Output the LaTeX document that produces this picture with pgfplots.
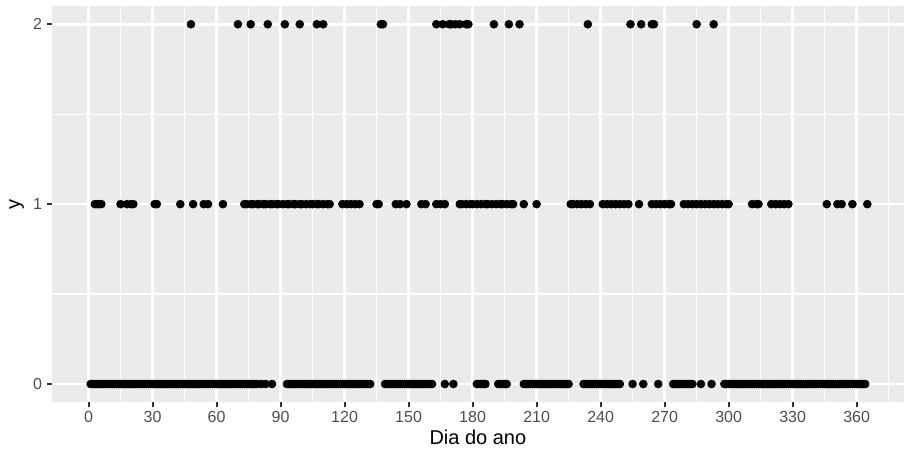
\documentclass[border=0pt]{standalone}
\usepackage{pgfplots}
\pgfplotsset{compat=1.18}
\usepackage{fontspec}
\setmainfont{Liberation Sans}
\definecolor{panelbg}{HTML}{EBEBEB}
\definecolor{grayA}{HTML}{4D4D4D}
\definecolor{grayB}{HTML}{333333}
\begin{document}
\begin{tikzpicture}
\begin{axis}[
  scale only axis, width=639.2pt, height=296.8pt,
  at={(38.8pt,36pt)}, anchor=south west,
  xmin=-17.25, xmax=382.2, ymin=-0.1, ymax=2.1,
  axis background/.style={fill=panelbg},
  axis x line*=bottom, axis y line*=left,
  axis line style={draw=none},
  xtick={0,30,...,360}, ytick={0,1,2},
  minor xtick={15,45,...,375}, minor ytick={0.5,1.5},
  grid=both,
  major grid style={white, line width=2pt},
  minor grid style={white, line width=1pt},
  tick align=outside,
  major tick length=3.75pt, minor tick length=0pt,
  major tick style={grayB, line width=1.5pt},
  /pgf/number format/assume math mode=true,
  ticklabel style={font=\fontsize{12}{14}\selectfont, text=grayA},
  xlabel={Dia do ano}, ylabel={y},
  label style={font=\fontsize{15}{18}\selectfont},
  xlabel style={yshift=2pt},
  clip=true,
]
\addplot[only marks, mark=*, mark size=3pt, black] coordinates {
(1,0)(2,0)(3,0)(4,0)(5,0)(6,0)(7,0)(8,0)(9,0)(10,0)
(11,0)(12,0)(13,0)(14,0)(15,0)(16,0)(17,0)(18,0)(19,0)(20,0)
(21,0)(22,0)(23,0)(24,0)(25,0)(26,0)(27,0)(28,0)(29,0)(30,0)
(31,0)(32,0)(33,0)(34,0)(35,0)(36,0)(37,0)(38,0)(39,0)(40,0)
(41,0)(42,0)(43,0)(44,0)(45,0)(46,0)(47,0)(48,0)(49,0)(50,0)
(51,0)(52,0)(53,0)(54,0)(55,0)(56,0)(57,0)(58,0)(59,0)(60,0)
(61,0)(62,0)(63,0)(64,0)(65,0)(66,0)(67,0)(68,0)(69,0)(70,0)
(71,0)(72,0)(73,0)(74,0)(75,0)(76,0)(77,0)(78,0)(79,0)(81,0)(83,0)(86,0)
(93,0)(94,0)(95,0)(96,0)(97,0)(98,0)(99,0)(100,0)
(101,0)(102,0)(103,0)(104,0)(105,0)(106,0)(107,0)(108,0)(109,0)(110,0)
(111,0)(112,0)(113,0)(114,0)(115,0)(116,0)(117,0)(118,0)(119,0)(120,0)
(121,0)(122,0)(123,0)(124,0)(125,0)(126,0)(127,0)(128,0)(129,0)(130,0)
(131,0)(132,0)
(139,0)(140,0)(141,0)(142,0)(143,0)(144,0)(145,0)(146,0)(147,0)(148,0)
(149,0)(150,0)(151,0)(152,0)(153,0)(154,0)(155,0)(156,0)(157,0)(158,0)
(159,0)(160,0)(161,0)
(167,0)(171,0)
(182,0)(183,0)(184,0)(185,0)(186,0)
(192,0)(193,0)(194,0)(195,0)(196,0)
(204,0)(205,0)(206,0)(207,0)(208,0)(209,0)(210,0)(211,0)(212,0)(213,0)
(214,0)(215,0)(216,0)(217,0)(218,0)(219,0)(220,0)(221,0)(222,0)(223,0)
(224,0)(225,0)
(232,0)(233,0)(234,0)(235,0)(236,0)(237,0)(238,0)(239,0)(240,0)(241,0)
(242,0)(243,0)(244,0)(245,0)(246,0)(247,0)(248,0)(249,0)
(255,0)(260,0)(267,0)
(274,0)(275,0)(276,0)(277,0)(278,0)(279,0)(280,0)(281,0)(282,0)(283,0)
(287,0)(292,0)
(298,0)(299,0)(300,0)(301,0)(302,0)(303,0)(304,0)(305,0)(306,0)(307,0)
(308,0)(309,0)(310,0)(311,0)(312,0)(313,0)(314,0)(315,0)(316,0)(317,0)
(318,0)(319,0)(320,0)(321,0)(322,0)(323,0)(324,0)(325,0)(326,0)(327,0)
(328,0)(329,0)(330,0)(331,0)(332,0)(333,0)(334,0)(335,0)(336,0)(337,0)
(338,0)(339,0)(340,0)(341,0)(342,0)(343,0)(344,0)(345,0)(346,0)(347,0)
(348,0)(349,0)(350,0)(351,0)(352,0)(353,0)(354,0)(355,0)(356,0)(357,0)
(358,0)(359,0)(360,0)(361,0)(362,0)(363,0)(364,0)
};
\addplot[only marks, mark=*, mark size=3pt, black] coordinates {
(3,1)(4,1)(5,1)(6,1)(15,1)(18,1)(20,1)(21,1)(31,1)(32,1)
(43,1)(49,1)(54,1)(56,1)(63,1)
(73,1)(74,1)(76,1)(77,1)(79,1)(80,1)(82,1)(83,1)(85,1)(86,1)
(88,1)(89,1)(91,1)(93,1)(94,1)(96,1)(97,1)(99,1)(100,1)(102,1)
(104,1)(105,1)(107,1)(108,1)(110,1)(112,1)(113,1)
(119,1)(121,1)(123,1)(125,1)(127,1)(135,1)(136,1)
(144,1)(146,1)(149,1)(156,1)(158,1)(163,1)(165,1)(167,1)
(174,1)(175,1)(177,1)(179,1)(180,1)(182,1)(184,1)(186,1)(187,1)(189,1)
(191,1)(193,1)(194,1)(196,1)(198,1)(199,1)
(204,1)(210,1)(226,1)(227,1)(229,1)(231,1)(233,1)(235,1)
(241,1)(243,1)(245,1)(247,1)(249,1)(251,1)(253,1)(258,1)
(264,1)(266,1)(268,1)(270,1)(272,1)(273,1)
(279,1)(281,1)(283,1)(285,1)(287,1)(289,1)(291,1)(293,1)(295,1)(297,1)
(299,1)(300,1)(311,1)(313,1)(314,1)(320,1)(322,1)(324,1)(326,1)(328,1)
(346,1)(351,1)(353,1)(358,1)(365,1)
};
\addplot[only marks, mark=*, mark size=3pt, black] coordinates {
(48,2)(70,2)(76,2)(84,2)(92,2)(99,2)(107,2)(110,2)(137,2)(138,2)
(163,2)(166,2)(169,2)(170,2)(172,2)(174,2)(177,2)(178,2)
(190,2)(197,2)(202,2)(234,2)(254,2)(259,2)(264,2)(265,2)(285,2)(293,2)
};
\end{axis}
\pgfresetboundingbox
\path[use as bounding box] (0,0) rectangle (678pt,337.5pt);
\end{tikzpicture}
\end{document}
